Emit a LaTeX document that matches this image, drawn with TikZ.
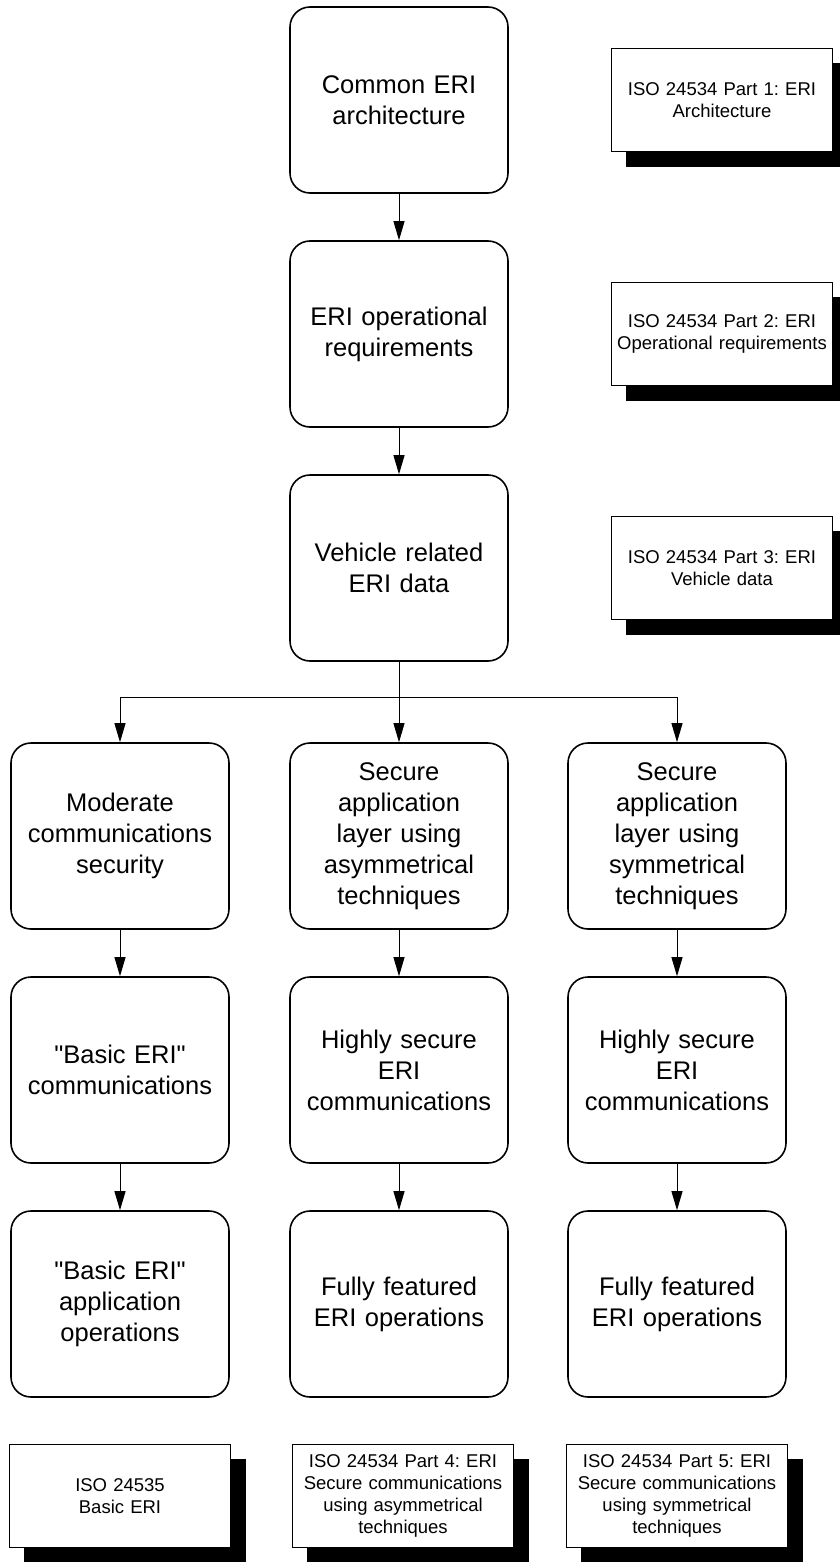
\documentclass[tikz,border=0pt]{standalone}
\usepackage{fontspec}
\setmainfont{Liberation Sans}
\usetikzlibrary{arrows.meta,shadows}
\frenchspacing

\begin{document}
\begin{tikzpicture}[x=1pt, y=-1pt,
    stage/.style={draw, line width=1.6pt, rounded corners=20pt, fill=white,
      minimum width=218pt, minimum height=186pt, inner sep=4pt,
      text width=210pt, align=center, font=\fontsize{25.5}{31}\selectfont},
    isodoc/.style={draw, line width=1.4pt, fill=white,
      minimum width=221pt, minimum height=103pt, inner sep=3pt,
      text width=215pt, align=center, font=\fontsize{18.5}{22}\selectfont,
      copy shadow={shadow xshift=15pt, shadow yshift=-15pt, fill=black, draw=black}},
    flow/.style={-{Triangle[length=19pt,width=11pt]}, line width=1pt}]
    \useasboundingbox (0,0) rectangle (839,1562);

    % main chain
    \node[stage] (arch)  at (399,100) {Common ERI\\architecture};
    \node[stage] (oper)  at (399,334) {ERI operational\\requirements};
    \node[stage] (vdata) at (399,568) {Vehicle related\\ERI data};

    % three branches
    \node[stage] (moder)    at (120,836)  {Moderate\\communications\\security};
    \node[stage] (asym)     at (399,836)  {Secure\\application\\layer using\\asymmetrical\\techniques};
    \node[stage] (sym)      at (677,836)  {Secure\\application\\layer using\\symmetrical\\techniques};
    \node[stage] (basiccom) at (120,1070) {\textquotedbl Basic ERI\textquotedbl\\communications};
    \node[stage] (hsasym)   at (399,1070) {Highly secure\\ERI\\communications};
    \node[stage] (hssym)    at (677,1070) {Highly secure\\ERI\\communications};
    \node[stage] (basicop)  at (120,1304) {\textquotedbl Basic ERI\textquotedbl\\application\\operations};
    \node[stage] (fullasym) at (399,1304) {Fully featured\\ERI operations};
    \node[stage] (fullsym)  at (677,1304) {Fully featured\\ERI operations};

    % standards documents
    \node[isodoc] (part1)    at (722,100)  {ISO 24534 Part 1: ERI\\Architecture};
    \node[isodoc] (part2)    at (722,334)  {ISO 24534 Part 2: ERI\\Operational requirements};
    \node[isodoc] (part3)    at (722,568)  {ISO 24534 Part 3: ERI\\Vehicle data};
    \node[isodoc] (basicdoc) at (120,1496) {ISO 24535\\Basic ERI};
    \node[isodoc] (part4)    at (403,1496) {ISO 24534 Part 4: ERI\\Secure communications\\using asymmetrical\\techniques};
    \node[isodoc] (part5)    at (677,1496) {ISO 24534 Part 5: ERI\\Secure communications\\using symmetrical\\techniques};

    \draw[flow] (arch) -- (oper);
    \draw[flow] (oper) -- (vdata);
    \coordinate (split) at (399,697);
    \draw[flow] (vdata) -- (asym);
    \draw[flow] (split) -| (moder);
    \draw[flow] (split) -| (sym);
    \foreach \a/\b in {moder/basiccom, asym/hsasym, sym/hssym,
                       basiccom/basicop, hsasym/fullasym, hssym/fullsym}
      \draw[flow] (\a) -- (\b);
\end{tikzpicture}
\end{document}
